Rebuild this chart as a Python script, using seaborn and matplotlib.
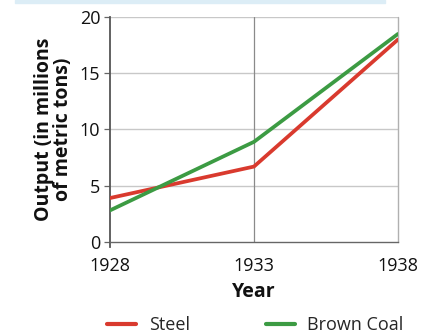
import matplotlib
matplotlib.use("Agg")
import matplotlib.pyplot as plt
import matplotlib.patches as mpatches
import seaborn as sns
import pandas as pd

years = [1928, 1933, 1938]
steel = [3.9, 6.7, 18.0]
brown_coal = [2.8, 8.9, 18.5]
series_names = ["Steel", "Brown Coal"]
y_ticks = [0, 5, 10, 15, 20]

df = pd.DataFrame({
    "Year": years * 2,
    "Output": steel + brown_coal,
    "Series": [series_names[0]] * 3 + [series_names[1]] * 3,
})

sns.set_theme(style="white")
plt.rcParams["font.family"] = ["Open Sans", "DejaVu Sans"]

fig = plt.figure(figsize=(4.33, 3.35), dpi=100)
ax = fig.add_axes([0.254, 0.278, 0.665, 0.671])

# thin pale band along the top edge
fig.patches.append(mpatches.Rectangle((0.035, 0.991), 0.855, 0.009,
                                      transform=fig.transFigure,
                                      color="#dcedf6", zorder=0))

palette = {"Steel": "#d93a2e", "Brown Coal": "#3c9b43"}
sns.lineplot(data=df, x="Year", y="Output", hue="Series", palette=palette,
             linewidth=2.7, ax=ax, legend=False, zorder=3)

ax.set_xlim(1928, 1938)
ax.set_ylim(0, 20)
ax.set_xticks(years)
ax.set_yticks(y_ticks)

# gridlines: light horizontals, darker verticals at 1933 and 1938
for v in y_ticks[1:]:
    ax.axhline(v, color="#c8c8c8", lw=1.0, zorder=1)
ax.axvline(1933, color="#8a8a8a", lw=0.9, zorder=1)
ax.axvline(1938, color="#b0b0b0", lw=1.0, zorder=1, clip_on=False)

for s in ["top", "right"]:
    ax.spines[s].set_visible(False)
ax.spines["left"].set_color("#555555")
ax.spines["left"].set_linewidth(1.3)
ax.spines["bottom"].set_color("#666666")
ax.spines["bottom"].set_linewidth(1.0)
ax.spines["left"].set_bounds(-0.5, 20)

ax.tick_params(axis="y", length=4, width=0.9, color="#666666", pad=3,
               labelsize=13, labelcolor="#111111", left=True)
ax.tick_params(axis="x", length=0, pad=11, labelsize=13, labelcolor="#111111")

ax.set_xlabel("Year", fontsize=14, fontweight="bold", color="#111111", labelpad=5)
ax.set_ylabel("Output (in millions\nof metric tons)", fontsize=14,
              fontweight="bold", color="#111111", labelpad=5, linespacing=0.9)

handles = [plt.Line2D([], [], color=palette[n], lw=3.0) for n in series_names]
fig.legend(handles, series_names, loc="lower center", ncol=2,
           bbox_to_anchor=(0.59, -0.045), frameon=False, fontsize=13,
           handlelength=1.6, handletextpad=0.7, columnspacing=4.2)

fig.savefig("out.png", dpi=100)
